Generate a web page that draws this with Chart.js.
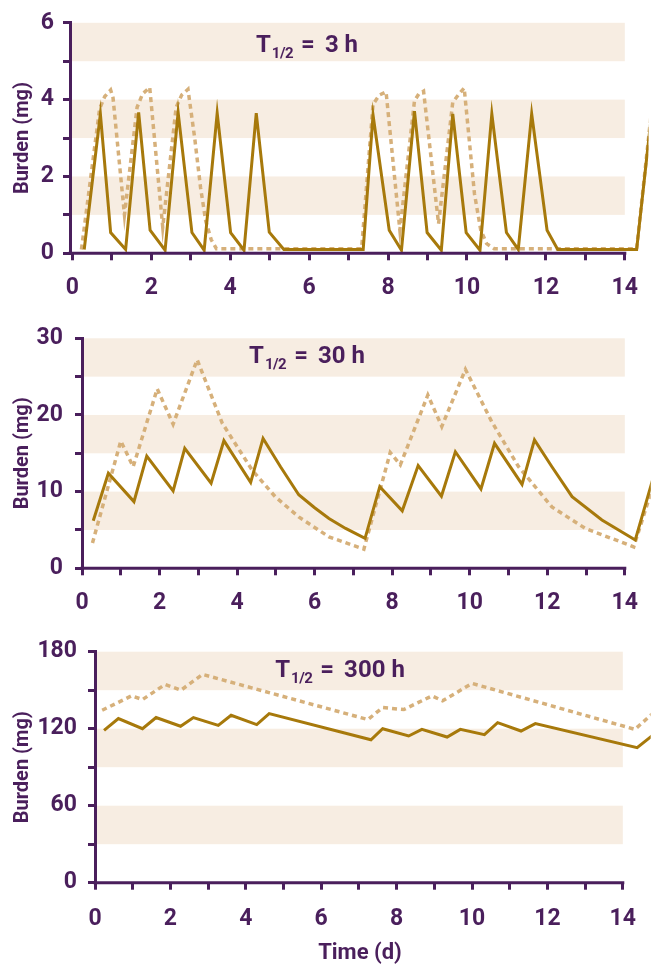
<!DOCTYPE html>
<html>
<head>
<meta charset="utf-8">
<script src="https://cdn.jsdelivr.net/npm/chart.js@4.4.1/dist/chart.umd.min.js"></script>
<style>
  html, body { margin:0; padding:0; background:#fff; }
  body { width:652px; height:964px; position:relative; overflow:hidden; font-family:Roboto, sans-serif; }
  canvas { position:absolute; left:0; }
  .txt { position:absolute; color:#4a1f5c; font-weight:bold; white-space:nowrap; transform:translateX(-50%); }
  .half { font-size:24px; line-height:24px; }
  .half .sub { font-size:15px; position:relative; top:6px; margin-left:1px; letter-spacing:-0.5px; }
  .half .eq { margin-left:8px; }
  .half .val { margin-left:10px; }
  #xtitle { font-size:22px; line-height:22px; left:360px; top:941px; }
</style>
</head>
<body>
<canvas id="c1" width="652" height="310" style="top:0px"></canvas>
<canvas id="c2" width="652" height="310" style="top:310px"></canvas>
<canvas id="c3" width="652" height="344" style="top:620px"></canvas>

<div class="txt half" style="left:307px;top:32px">T<span class="sub">1/2</span><span class="eq">=</span><span class="val">3 h</span></div>
<div class="txt half" style="left:307px;top:343px">T<span class="sub">1/2</span><span class="eq">=</span><span class="val">30 h</span></div>
<div class="txt half" style="left:340px;top:657px">T<span class="sub">1/2</span><span class="eq">=</span><span class="val">300 h</span></div>
<div class="txt" id="xtitle">Time (d)</div>

<script>
/* COLOURS */
const AXIS  = "#4a1f5c";
const SOLID = "#a7790b";
const DASH  = "#d6b07a";
const BAND  = "#f7ede2";
const FONT  = "Roboto, sans-serif";

/* DATA: T1/2 = 3 h */
const h3SolidDay = [0.30,0.71,0.97,1.35,1.68,1.97,2.35,2.68,3.03,3.34,3.67,4.01,4.35,4.66,4.99,5.36,
                    7.37,7.62,8.03,8.34,8.67,8.99,9.35,9.64,9.98,10.33,10.63,11.00,11.30,11.64,12.03,12.30,14.30,14.68];
const h3SolidMg  = [0.10,3.63,0.54,0.10,3.67,0.60,0.08,3.67,0.54,0.08,3.65,0.54,0.08,3.65,0.55,0.10,
                    0.10,3.60,0.60,0.08,3.70,0.54,0.08,3.63,0.54,0.08,3.63,0.54,0.10,3.63,0.60,0.10,0.10,3.65];
const h3DashDay  = [0.23,0.69,0.82,0.97,1.03,1.32,1.64,1.78,1.96,2.29,2.63,2.77,2.93,3.10,3.25,3.38,3.52,3.65,
                    7.33,7.62,7.78,7.95,8.30,8.67,8.78,8.90,9.28,9.64,9.80,9.93,10.19,10.35,10.50,10.69,14.30,14.68];
const h3DashMg   = [0.10,3.76,4.08,4.25,4.05,1.00,3.80,4.15,4.32,0.68,3.80,4.12,4.27,3.00,1.70,0.84,0.35,0.12,
                    0.12,3.88,4.12,4.20,0.60,3.97,4.15,4.22,0.77,3.93,4.15,4.30,1.55,0.60,0.25,0.12,0.12,3.75];

/* DATA: T1/2 = 30 h */
const h30SolidDay = [0.29,0.68,1.34,1.67,2.35,2.65,3.33,3.66,4.35,4.67,5.12,5.59,6.00,6.37,6.80,7.30,
                     7.68,8.26,8.67,9.27,9.63,10.29,10.64,11.35,11.67,12.12,12.64,13.41,14.27,14.72];
const h30SolidMg  = [6.2,12.4,8.7,14.65,10.1,15.65,11.1,16.65,11.2,16.95,13.25,9.6,7.9,6.5,5.2,3.9,
                     10.65,7.5,13.4,9.4,15.2,10.35,16.3,10.95,16.75,13.25,9.35,6.3,3.7,11.6];
const h30DashDay  = [0.27,1.00,1.32,1.94,2.35,2.97,3.62,4.39,4.99,5.59,6.37,7.27,
                     7.95,8.21,8.92,9.28,9.89,10.57,11.26,12.12,12.98,14.23,14.72];
const h30DashMg   = [3.3,16.6,13.25,23.4,18.8,27.2,18.9,12.8,9.3,6.7,4.1,2.5,
                     15.1,13.5,22.6,18.5,25.95,19.1,13.25,8.0,5.2,2.8,10.6];

/* DATA: T1/2 = 300 h */
const h300SolidDay = [0.24,0.62,1.26,1.62,2.27,2.61,3.27,3.61,4.29,4.62,7.32,
                      7.63,8.32,8.67,9.34,9.69,10.33,10.68,11.30,11.68,14.38,14.80];
const h300SolidMg  = [118.7,127.9,120.0,128.7,121.9,128.7,122.6,130.5,123.2,131.8,111.4,
                      120.0,114.3,119.5,113.5,119.5,115.3,124.7,118.2,124.0,105.2,115.0];
const h300DashDay  = [0.19,0.97,1.26,1.86,2.28,2.85,7.24,7.63,8.19,8.94,9.22,10.00,14.32,14.80];
const h300DashMg   = [134.4,145.6,142.7,154.5,150.0,162.3,127.1,136.5,134.9,145.6,141.7,155.3,119.5,132.0];

const LAST_DAY = 14; // axis, ticks and bands stop here, the curves run on to the edge

const pts = (xs, ys) => xs.map((x, i) => ({ x, y: ys[i] }));

/* shaded bands between every other pair of y ticks, and the time axis up to day 14 */
const frame = {
  id: "frame",
  beforeDraw(chart){
    const { ctx, chartArea: a, scales: { x, y } } = chart;
    const t = y.ticks, right = x.getPixelForValue(LAST_DAY);
    ctx.save();
    ctx.fillStyle = BAND;
    for (let i = 1; i < t.length - 1; i += 2) {
      const top = y.getPixelForValue(t[i + 1].value), bot = y.getPixelForValue(t[i].value);
      ctx.fillRect(a.left, top, right - a.left, bot - top);
    }
    ctx.restore();
  },
  afterDatasetsDraw(chart){
    const { ctx, chartArea: a, scales: { x } } = chart;
    ctx.save();
    ctx.strokeStyle = AXIS; ctx.lineWidth = 3;
    ctx.beginPath();
    ctx.moveTo(a.left - 1.5, a.bottom);
    ctx.lineTo(x.getPixelForValue(LAST_DAY) + 1.5, a.bottom);
    ctx.stroke();
    ctx.restore();
  }
};

function panel(id, p){
  const tickFont = { family: FONT, size: 23, weight: "bold" };
  new Chart(document.getElementById(id), {
    type: "line",
    data: { datasets: [
      { data: pts(p.solidX, p.solidY), borderColor: SOLID, borderWidth: 3, pointRadius: 0 },
      { data: pts(p.dashX, p.dashY), borderColor: DASH, borderWidth: 3.5, borderDash: [5, 4], pointRadius: 0 }
    ]},
    options: {
      responsive: false, animation: false, events: [],
      layout: { padding: { top: p.top, right: 0, left: 0, bottom: 0 } },
      plugins: { legend: { display: false }, tooltip: { enabled: false } },
      scales: {
        x: {
          type: "linear", min: p.xMin, max: p.xMax,
          afterFit: s => { s.height = p.xH; },
          afterBuildTicks: s => { s.ticks = s.ticks.filter(t => t.value >= 0 && t.value <= LAST_DAY); },
          border: { display: false },
          grid: { drawOnChartArea: false, tickLength: 7, color: AXIS, lineWidth: 3 },
          ticks: { stepSize: 1, includeBounds: false, autoSkip: false, maxRotation: 0, padding: p.xPad,
                   color: AXIS, font: tickFont, callback: v => v % 2 === 0 ? v : "" }
        },
        y: {
          min: 0, max: p.yMax,
          afterFit: s => { s.width = p.yW; },
          border: { color: AXIS, width: 3 },
          grid: { drawOnChartArea: false, tickLength: 7, color: AXIS, lineWidth: 3 },
          ticks: { stepSize: p.yStep, padding: p.yPad, color: AXIS, font: tickFont,
                   callback: v => v % (p.yStep * 2) === 0 ? v : "" },
          title: { display: true, text: "Burden (mg)", color: AXIS,
                   font: { family: FONT, size: 20, weight: "bold", lineHeight: 1 }, padding: { top: 13, bottom: 0 } }
        }
      }
    },
    plugins: [frame]
  });
}

panel("c1", { solidX: h3SolidDay, solidY: h3SolidMg, dashX: h3DashDay, dashY: h3DashMg,
              top: 22, xH: 56.7, yW: 70, xMin: -0.06, xMax: 14.60, xPad: 14, yMax: 6, yStep: 1, yPad: 9 });
panel("c2", { solidX: h30SolidDay, solidY: h30SolidMg, dashX: h30DashDay, dashY: h30DashMg,
              top: 28.3, xH: 51.7, yW: 82, xMin: 0, xMax: 14.67, xPad: 14, yMax: 30, yStep: 5, yPad: 12 });
panel("c3", { solidX: h300SolidDay, solidY: h300SolidMg, dashX: h300DashDay, dashY: h300DashMg,
              top: 31.7, xH: 81.3, yW: 95, xMin: 0, xMax: 14.74, xPad: 16, yMax: 180, yStep: 30, yPad: 11 });
</script>
</body>
</html>
